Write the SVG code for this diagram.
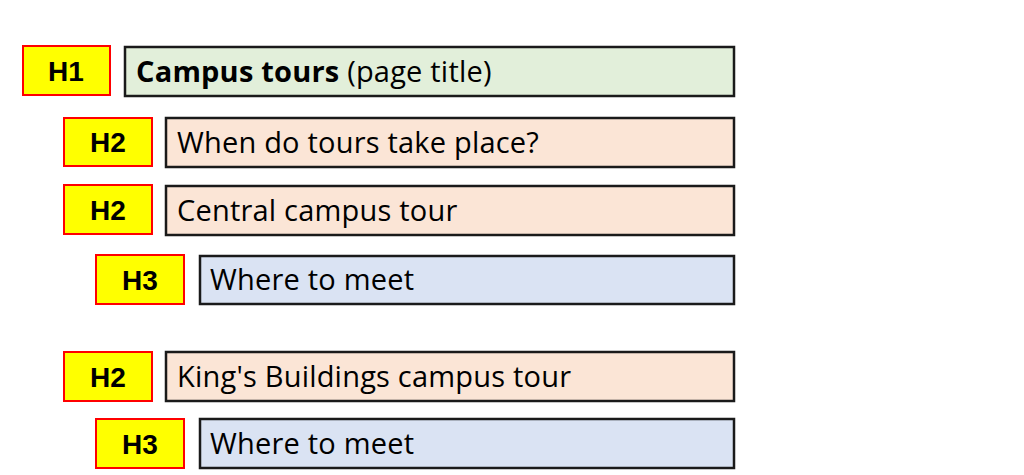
<svg xmlns="http://www.w3.org/2000/svg" width="1024" height="475" viewBox="0 0 1024 475">
<style>
.tag{fill:#FFFF00;stroke:#FF0000;stroke-width:2}
.tt{font-family:"Liberation Sans",Arial,sans-serif;font-weight:bold;font-size:28px;fill:#000;text-anchor:middle}
.box{stroke:#1a1a1a;stroke-width:2.5}
.g{fill:#E2EFDA}.p{fill:#FBE5D6}.b{fill:#DAE3F3}
.bt{font-family:"Open Sans","Liberation Sans",sans-serif;font-size:29px;fill:#000;letter-spacing:0.2px}
</style>
<rect width="1024" height="475" fill="#fff"/>
<g id="h1">
<rect class="tag" x="23" y="46" width="87" height="49"/>
<text class="tt" x="66" y="81">H1</text>
<rect class="box g" x="125" y="47" width="609" height="49"/>
<text class="bt" x="136" y="82"><tspan font-weight="bold">Campus tours</tspan> (page title)</text>
</g>
<g id="h2a">
<rect class="tag" x="64" y="118" width="88" height="48"/>
<text class="tt" x="108" y="152">H2</text>
<rect class="box p" x="166" y="118" width="568" height="49"/>
<text class="bt" x="177" y="153">When do tours take place?</text>
</g>
<g id="h2b">
<rect class="tag" x="64" y="185" width="88" height="49"/>
<text class="tt" x="108" y="220">H2</text>
<rect class="box p" x="166" y="186" width="568" height="49"/>
<text class="bt" x="177" y="221">Central campus tour</text>
</g>
<g id="h3a">
<rect class="tag" x="96" y="255" width="88" height="49"/>
<text class="tt" x="140" y="290">H3</text>
<rect class="box b" x="200" y="256" width="534" height="48"/>
<text class="bt" x="210" y="290">Where to meet</text>
</g>
<g id="h2c">
<rect class="tag" x="64" y="352" width="88" height="49"/>
<text class="tt" x="108" y="387">H2</text>
<rect class="box p" x="166" y="352" width="568" height="49"/>
<text class="bt" x="177" y="387">King's Buildings campus tour</text>
</g>
<g id="h3b">
<rect class="tag" x="96" y="419" width="88" height="49"/>
<text class="tt" x="140" y="454">H3</text>
<rect class="box b" x="200" y="419" width="534" height="49"/>
<text class="bt" x="210" y="454">Where to meet</text>
</g>
<g id="connectors"></g>
</svg>
